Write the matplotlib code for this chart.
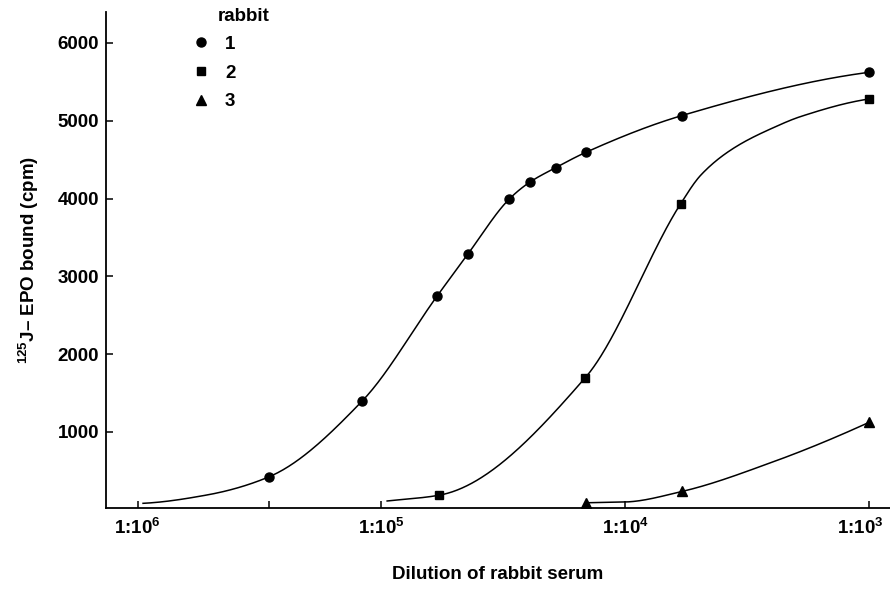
import numpy as np
import matplotlib
matplotlib.use("Agg")
import matplotlib.pyplot as plt
import matplotlib.transforms as mtransforms
from matplotlib.lines import Line2D

plt.rcParams['font.family'] = ['Liberation Sans', 'DejaVu Sans']
plt.rcParams['mathtext.fontset'] = 'custom'
plt.rcParams['mathtext.rm'] = 'Liberation Sans'
plt.rcParams['mathtext.bf'] = 'Liberation Sans:bold'
plt.rcParams['mathtext.it'] = 'Liberation Sans:italic'

# ---- data (dilution factor 1:D, bound cpm) ----
r1_dil = [290000, 120000, 59000, 44300, 29900, 24700, 19300, 14500, 5870, 1000]
r1_cpm = [422, 1398, 2752, 3284, 3995, 4209, 4397, 4595, 5066, 5623]
r2_dil = [58300, 14600, 5940, 1000]
r2_cpm = [186, 1698, 3931, 5280]
r3_dil = [14500, 5870, 1000]
r3_cpm = [90, 235, 1125]

# hand-drawn curve guide points
c1_dil = [950000, 520000, 290000, 120000, 59000, 44300, 29900, 24700, 19300, 14500, 5870, 1000]
c1_cpm = [83, 190, 422, 1398, 2752, 3284, 3995, 4209, 4397, 4595, 5066, 5623]
c2_dil = [94800, 58300, 14600, 5940, 4900, 3600, 2420, 1915, 1000]
c2_cpm = [113, 186, 1698, 3931, 4303, 4647, 4924, 5053, 5280]
c3_dil = [14500, 10000, 5870, 2470, 1000]
c3_cpm = [90, 100, 235, 618, 1125]

xtick_vals = [1e6, 1e5, 1e4, 1e3]
xtick_labels = [r'1:10$^{\mathbf{6}}$', r'1:10$^{\mathbf{5}}$',
                r'1:10$^{\mathbf{4}}$', r'1:10$^{\mathbf{3}}$']
ytick_vals = [1000, 2000, 3000, 4000, 5000, 6000]


def pchip(x, y, xi):
    x = np.asarray(x, float); y = np.asarray(y, float)
    h = np.diff(x); d = np.diff(y) / h
    n = len(x)
    m = np.zeros(n)
    for k in range(1, n - 1):
        if d[k - 1] * d[k] > 0:
            w1 = 2 * h[k] + h[k - 1]
            w2 = h[k] + 2 * h[k - 1]
            m[k] = (w1 + w2) / (w1 / d[k - 1] + w2 / d[k])
    m[0] = d[0]
    m[-1] = d[-1]
    if n > 2:
        m0 = ((2 * h[0] + h[1]) * d[0] - h[0] * d[1]) / (h[0] + h[1])
        if np.sign(m0) == np.sign(d[0]):
            m[0] = m0 if abs(m0) < 3 * abs(d[0]) else 3 * d[0]
        m1 = ((2 * h[-1] + h[-2]) * d[-1] - h[-1] * d[-2]) / (h[-1] + h[-2])
        if np.sign(m1) == np.sign(d[-1]):
            m[-1] = m1 if abs(m1) < 3 * abs(d[-1]) else 3 * d[-1]
        else:
            m[-1] = 0
    idx = np.clip(np.searchsorted(x, xi) - 1, 0, n - 2)
    t = (xi - x[idx]) / h[idx]
    h00 = 2 * t**3 - 3 * t**2 + 1
    h10 = t**3 - 2 * t**2 + t
    h01 = -2 * t**3 + 3 * t**2
    h11 = t**3 - t**2
    return h00 * y[idx] + h10 * h[idx] * m[idx] + h01 * y[idx + 1] + h11 * h[idx] * m[idx + 1]


def smooth(dil, cpm):
    lx = -np.log10(np.asarray(dil, float))
    xs = np.linspace(lx[0], lx[-1], 400)
    ys = pchip(lx, cpm, xs)
    return 10 ** (-xs), ys


FS = 13.5
fig = plt.figure(figsize=(8.9, 5.9), dpi=100)
ax = fig.add_axes([0.119, 0.139, 0.881, 0.841])
ax.set_xscale('log')

lw = 1.1
for cd, cc in [(c1_dil, c1_cpm), (c2_dil, c2_cpm), (c3_dil, c3_cpm)]:
    sx, sy = smooth(cd, cc)
    ax.plot(sx, sy, color='black', lw=lw, zorder=2)

ms = 6.5
ax.plot(r1_dil, r1_cpm, 'o', color='black', ms=ms, zorder=3)
ax.plot(r2_dil, r2_cpm, 's', color='black', ms=ms - 0.3, zorder=3)
ax.plot(r3_dil, r3_cpm, '^', color='black', ms=ms, zorder=3)

ax.set_xlim(10 ** 6.130, 10 ** 2.915)
ax.set_ylim(23, 6400)

ax.spines['top'].set_visible(False)
ax.spines['right'].set_visible(False)
for s in ['left', 'bottom']:
    ax.spines[s].set_linewidth(1.3)

ax.set_xticks(xtick_vals)
ax.set_xticklabels(xtick_labels)
ax.set_xticks([r1_dil[0]], minor=True)
ax.set_xticklabels([''], minor=True)
ax.set_yticks(ytick_vals)
ax.set_yticklabels([str(v) for v in ytick_vals])

ax.tick_params(axis='x', which='both', direction='in', length=5, width=1.1,
               labelsize=FS, pad=7)
ax.tick_params(axis='y', direction='in', length=5, width=1.1, labelsize=FS, pad=5)
for lab in ax.get_xticklabels() + ax.get_yticklabels():
    lab.set_fontweight('bold')

# keep last x tick label inside the figure
xlabs = ax.get_xticklabels()
shift = mtransforms.ScaledTranslation(-9 / 100, 0, fig.dpi_scale_trans)
xlabs[-1].set_transform(xlabs[-1].get_transform() + shift)

ax.set_xlabel('Dilution of rabbit serum', fontsize=FS, fontweight='bold', labelpad=20)
ax.set_ylabel(r'$^{\mathbf{125}}$J– EPO bound (cpm)', fontsize=FS, fontweight='bold',
              labelpad=12)

handles = [Line2D([], [], marker='o', ls='none', color='black', ms=ms),
           Line2D([], [], marker='s', ls='none', color='black', ms=ms - 0.3),
           Line2D([], [], marker='^', ls='none', color='black', ms=ms)]
leg = ax.legend(handles, ['1', '2', '3'], loc='upper left', bbox_to_anchor=(0.104, 0.967),
                frameon=False, handlelength=0.6, handletextpad=1.0, labelspacing=0.62,
                prop={'size': FS, 'weight': 'bold'}, borderaxespad=0)
ax.text(0.142, 0.990, 'rabbit', transform=ax.transAxes, fontsize=FS, fontweight='bold',
        ha='left', va='center')

fig.savefig('out.png', dpi=100)
